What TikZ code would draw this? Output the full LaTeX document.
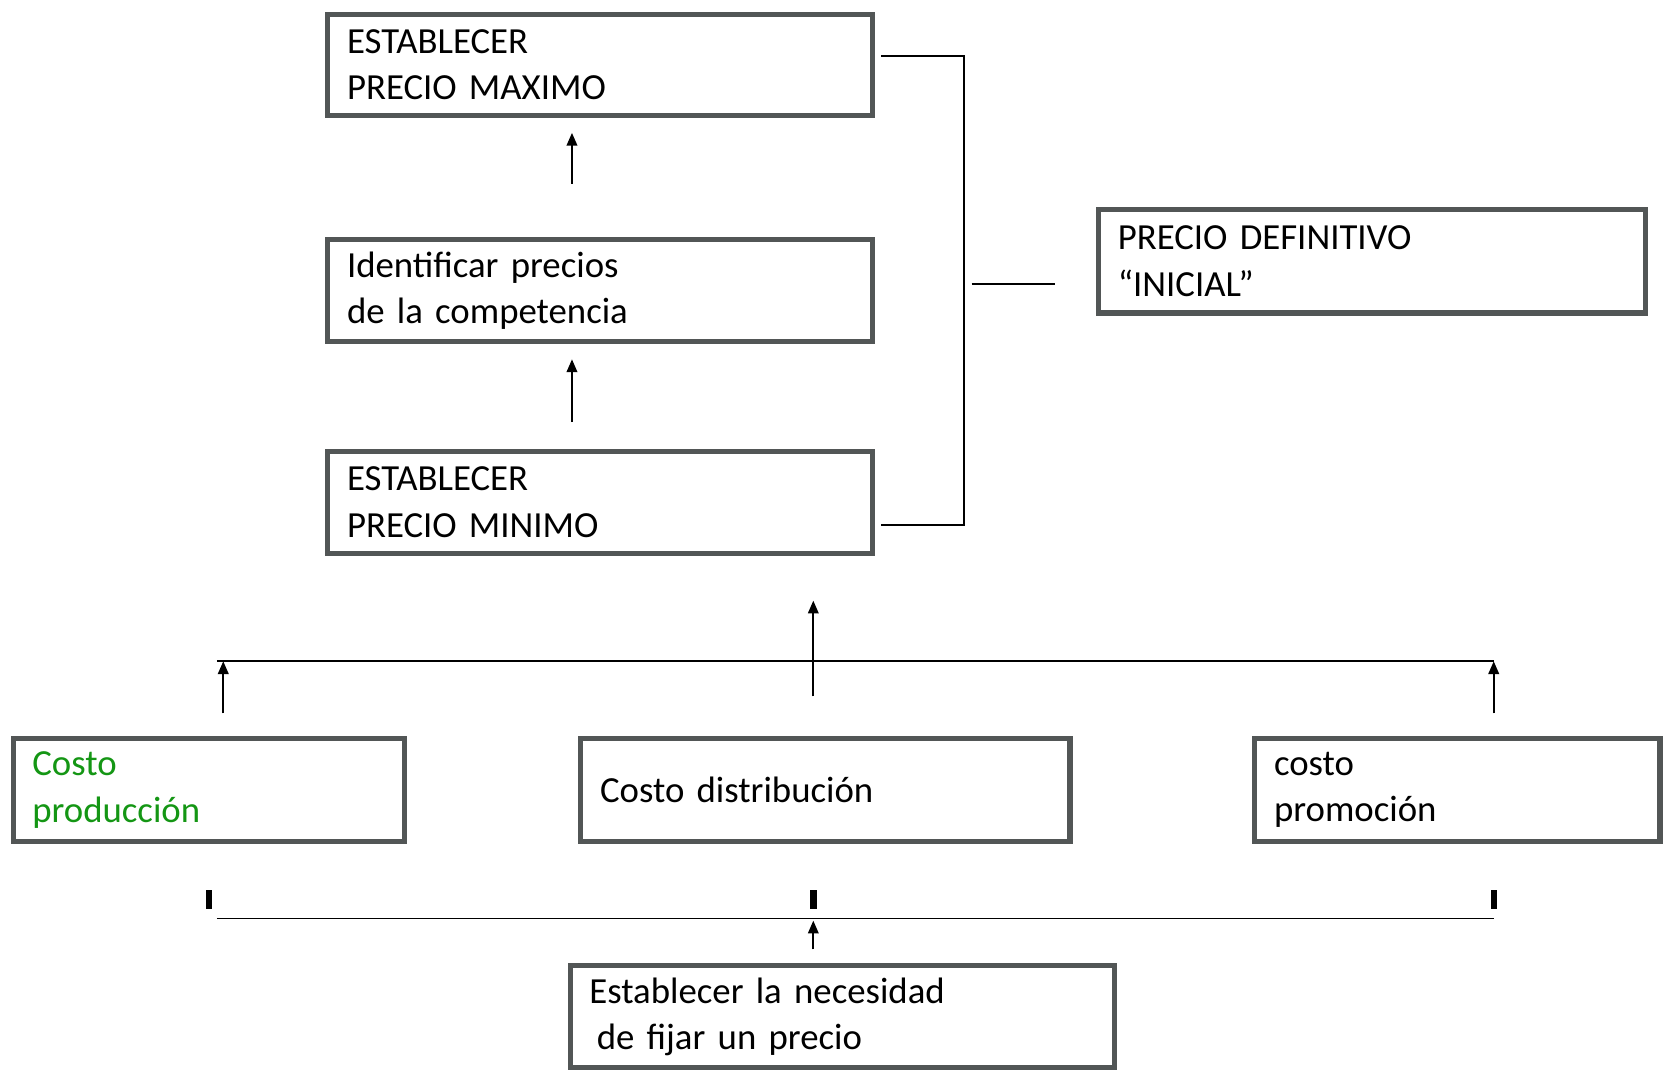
\documentclass[tikz,border=0pt]{standalone}
\usepackage{fontspec}
\setmainfont[WordSpace=0.8]{Carlito}
\usetikzlibrary{arrows.meta}
\definecolor{boxgray}{RGB}{82,86,86}
\definecolor{txtgreen}{RGB}{20,150,20}
\begin{document}
\begin{tikzpicture}[x=1pt,y=-1pt,
  box/.style={draw=boxgray, line width=4.8pt, rectangle, anchor=north west, align=left,
    inner xsep=18pt, inner ysep=0pt, font=\fontsize{34.6}{44}\selectfont},
  conn/.style={line width=1.6pt, black},
  arr/.style={conn, -{Triangle[length=12pt,width=10pt]}},
  tick/.style={fill=black, draw=none}]
\useasboundingbox (0,0) rectangle (1568,1007);
% boxes
\node[box, text width=476pt, minimum height=95pt] (max) at (306,11) {ESTABLECER\\PRECIO MAXIMO};
\node[box, text width=476pt, minimum height=96pt] (comp) at (306,223) {Identificar precios\\de la competencia};
\node[box, text width=476pt, minimum height=96pt] (min) at (306,422) {ESTABLECER\\PRECIO MINIMO};
\node[box, text width=478pt, minimum height=97pt] (def) at (1031,195) {PRECIO DEFINITIVO\\“INICIAL”};
\node[box, text width=332pt, minimum height=97pt, text=txtgreen] (prod) at (10,692) {Costo\\producción};
\node[box, text width=424pt, minimum height=97pt] (dist) at (544,692) {Costo distribución};
\node[box, text width=345pt, minimum height=97pt] (prom) at (1178,692) {costo\\promoción};
\node[box, text width=476pt, minimum height=96pt] (nec) at (534,906) {Establecer la necesidad\\\hspace*{7pt}de fijar un precio};
% coordinates
\coordinate (a1s) at (538,173); \coordinate (a1e) at (538,125);
\coordinate (a2s) at (538,397); \coordinate (a2e) at (538,338);
\coordinate (bmax) at (829,53); \coordinate (bmin) at (829,494);
\coordinate (btop) at (907,53); \coordinate (bbot) at (907,494);
\coordinate (ds) at (914,267); \coordinate (de) at (992,267);
\coordinate (cs) at (765,655); \coordinate (ce) at (765,565);
\coordinate (hl) at (204,622); \coordinate (hr) at (1405,622);
\coordinate (ls) at (210,671); \coordinate (le) at (210,622);
\coordinate (rs) at (1405,671); \coordinate (re) at (1405,622);
\coordinate (bl) at (204,864); \coordinate (br) at (1405,864);
\coordinate (ns) at (765,893); \coordinate (ne) at (765,866);
% connectors
\draw[arr] (a1s) -- (a1e);
\draw[arr] (a2s) -- (a2e);
\draw[conn] (bmax) -- (btop) -- (bbot) -- (bmin);
\draw[conn] (ds) -- (de);
\draw[conn] (hl) -- (hr);
\draw[arr] (cs) -- (ce);
\draw[arr] (ls) -- (le);
\draw[arr] (rs) -- (re);
\draw[conn] (bl) -- (br);
\draw[arr] (ns) -- (ne);
% ticks
\fill[tick] (193.5,837) rectangle (199.5,855);
\fill[tick] (762,837) rectangle (768,855);
\fill[tick] (1402,837) rectangle (1408,855);
\end{tikzpicture}
\end{document}
